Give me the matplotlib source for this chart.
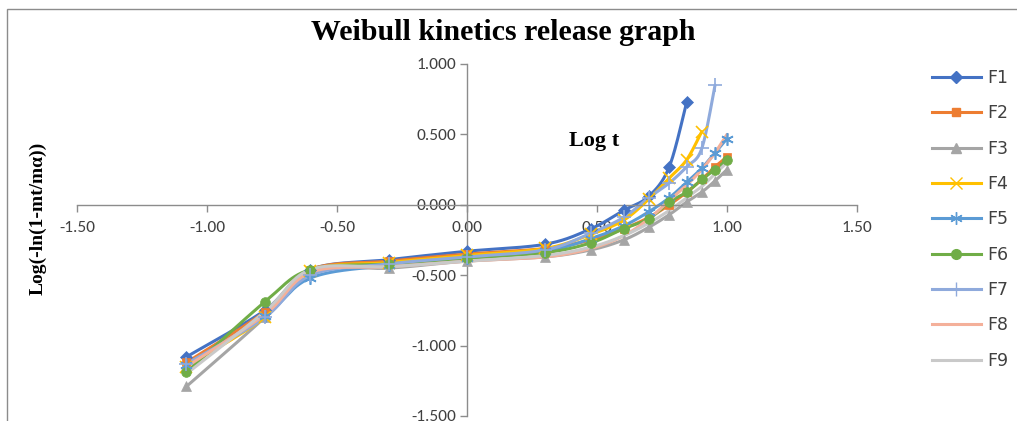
import numpy as np
import matplotlib
matplotlib.use("Agg")
import matplotlib.pyplot as plt
from matplotlib.patches import Rectangle

# ---- data ----
log_t = [-1.079, -0.778, -0.602, -0.301, 0.000, 0.301, 0.477, 0.602, 0.699, 0.778, 0.845, 0.903, 0.954, 1.000]
series_names = ["F1", "F2", "F3", "F4", "F5", "F6", "F7", "F8", "F9"]
F1 = [-1.08, -0.75, -0.46, -0.39, -0.33, -0.28, -0.17, -0.04, 0.06, 0.27, 0.73]
F2 = [-1.12, -0.76, -0.46, -0.40, -0.35, -0.31, -0.25, -0.17, -0.09, 0.00, 0.09, 0.18, 0.27, 0.34]
F3 = [-1.29, -0.80, -0.47, -0.45, -0.40, -0.37, -0.32, -0.25, -0.16, -0.07, 0.02, 0.09, 0.17, 0.25]
F4 = [-1.15, -0.80, -0.47, -0.41, -0.36, -0.31, -0.21, -0.11, 0.04, 0.19, 0.32, 0.52]
F5 = [-1.14, -0.79, -0.52, -0.43, -0.38, -0.33, -0.24, -0.15, -0.05, 0.05, 0.16, 0.26, 0.37, 0.47]
F6 = [-1.19, -0.69, -0.46, -0.42, -0.38, -0.34, -0.27, -0.17, -0.10, 0.02, 0.09, 0.18, 0.25, 0.32]
F7 = [-1.13, -0.80, -0.50, -0.42, -0.37, -0.32, -0.20, -0.09, 0.05, 0.155, 0.27, 0.40, 0.85]
F8 = [-1.15, -0.78, -0.48, -0.44, -0.40, -0.37, -0.31, -0.22, -0.10, 0.03, 0.14, 0.25, 0.37, 0.50]
F9 = [-1.20, -0.76, -0.46, -0.44, -0.40, -0.36, -0.30, -0.22, -0.13, -0.04, 0.05, 0.13, 0.22, 0.30]
x_ticks = [-1.5, -1.0, -0.5, 0.0, 0.5, 1.0, 1.5]
y_ticks = [-1.5, -1.0, -0.5, 0.0, 0.5, 1.0]

all_series = [F1, F2, F3, F4, F5, F6, F7, F8, F9]
colors = ["#4472C4", "#ED7D31", "#A5A5A5", "#FFC000", "#5B9BD5", "#70AD47",
          "#8FAADC", "#F4B09A", "#C9C9C9"]
asterisk = (6, 2, 0)
markers = ["D", "s", "^", "x", asterisk, "o", "+", None, None]
msizes = [6, 6, 7, 8, 9, 7, 10, 0, 0]


def smooth(xs, ys, n=30):
    """Excel-like smoothed line (Catmull-Rom Bezier) through points."""
    P = np.column_stack([xs, ys]).astype(float)
    out = [P[0]]
    m = len(P)
    for i in range(m - 1):
        p0 = P[i - 1] if i > 0 else P[i]
        p1 = P[i]
        p2 = P[i + 1]
        p3 = P[i + 2] if i + 2 < m else P[i + 1]
        b1 = p1 + (p2 - p0) / 6.0
        b2 = p2 - (p3 - p1) / 6.0
        t = np.linspace(0, 1, n)[1:, None]
        seg = ((1 - t) ** 3) * p1 + 3 * ((1 - t) ** 2) * t * b1 + 3 * (1 - t) * t ** 2 * b2 + t ** 3 * p2
        out.extend(seg)
    out = np.array(out)
    return out[:, 0], out[:, 1]


W, H = 1017, 421
fig = plt.figure(figsize=(W / 100, H / 100), dpi=100)
fig.patch.set_facecolor("white")

# outer chart border (cropped Excel chart area)
fig.add_artist(Rectangle((7 / W, -0.1), 1.2, 1 - 9 / H + 0.1, transform=fig.transFigure,
                         fill=False, edgecolor="#8C8C8C", linewidth=1.0))

ax = fig.add_axes([77 / W, 1 - 416 / H, (857 - 77) / W, (416 - 64) / H])
ax.set_xlim(-1.5, 1.5)
ax.set_ylim(-1.5, 1.0)
ax.patch.set_alpha(0)

for name, ys, c, mk, ms in zip(series_names, all_series, colors, markers, msizes):
    xs = log_t[:len(ys)]
    sx, sy = smooth(xs, ys)
    ax.plot(sx, sy, color=c, lw=2.2, solid_capstyle="round", zorder=2)
    if mk is not None:
        ax.plot(xs, ys, linestyle="none", marker=mk, color=c, markersize=ms,
                markeredgewidth=1.2 if mk in ("x", "+", asterisk) else 0.5, zorder=3)
    # legend proxy
    ax.plot([], [], color=c, lw=2.2, marker=mk, markersize=ms, label=name)

for side in ("top", "right"):
    ax.spines[side].set_visible(False)
ax.spines["left"].set_position(("data", 0))
ax.spines["bottom"].set_position(("data", 0))
for side in ("left", "bottom"):
    ax.spines[side].set_color("#8C8C8C")
    ax.spines[side].set_linewidth(1.0)

ax.set_xticks(x_ticks)
ax.set_yticks(y_ticks)
ax.set_xticklabels([f"{v:.2f}" for v in x_ticks])
ax.set_yticklabels([f"{v:.3f}" for v in y_ticks])
ax.tick_params(axis="both", direction="out", length=5, width=1.0, color="#8C8C8C",
               labelsize=12.5, labelcolor="#404040")
ax.tick_params(axis="x", pad=7)
ax.tick_params(axis="y", pad=3)
for lab in ax.get_xticklabels() + ax.get_yticklabels():
    lab.set_family(["Carlito", "Liberation Sans", "DejaVu Sans"])

# titles and labels
fig.text(503 / W, 1 - 33 / H, "Weibull kinetics release graph", ha="center", va="center",
         fontsize=21.5, fontweight="bold", family=["Liberation Serif", "DejaVu Serif"])
fig.text(38 / W, 1 - 218 / H, "Log(-ln(1-mt/mα))", ha="center", va="center", rotation=90,
         fontsize=14, fontweight="bold", family=["Liberation Serif", "DejaVu Serif"])
ax.text(0.49, 0.45, "Log t", ha="center", va="center", fontsize=16, fontweight="bold",
        family=["Liberation Serif", "DejaVu Serif"])

leg = fig.legend(loc="upper left", bbox_to_anchor=(925 / W, 1 - 62 / H), frameon=False,
                 fontsize=12.5, labelspacing=1.0, handlelength=2.8, handletextpad=0.4,
                 borderaxespad=0)
for t in leg.get_texts():
    t.set_color("#404040")

fig.savefig("out.png", dpi=100)
